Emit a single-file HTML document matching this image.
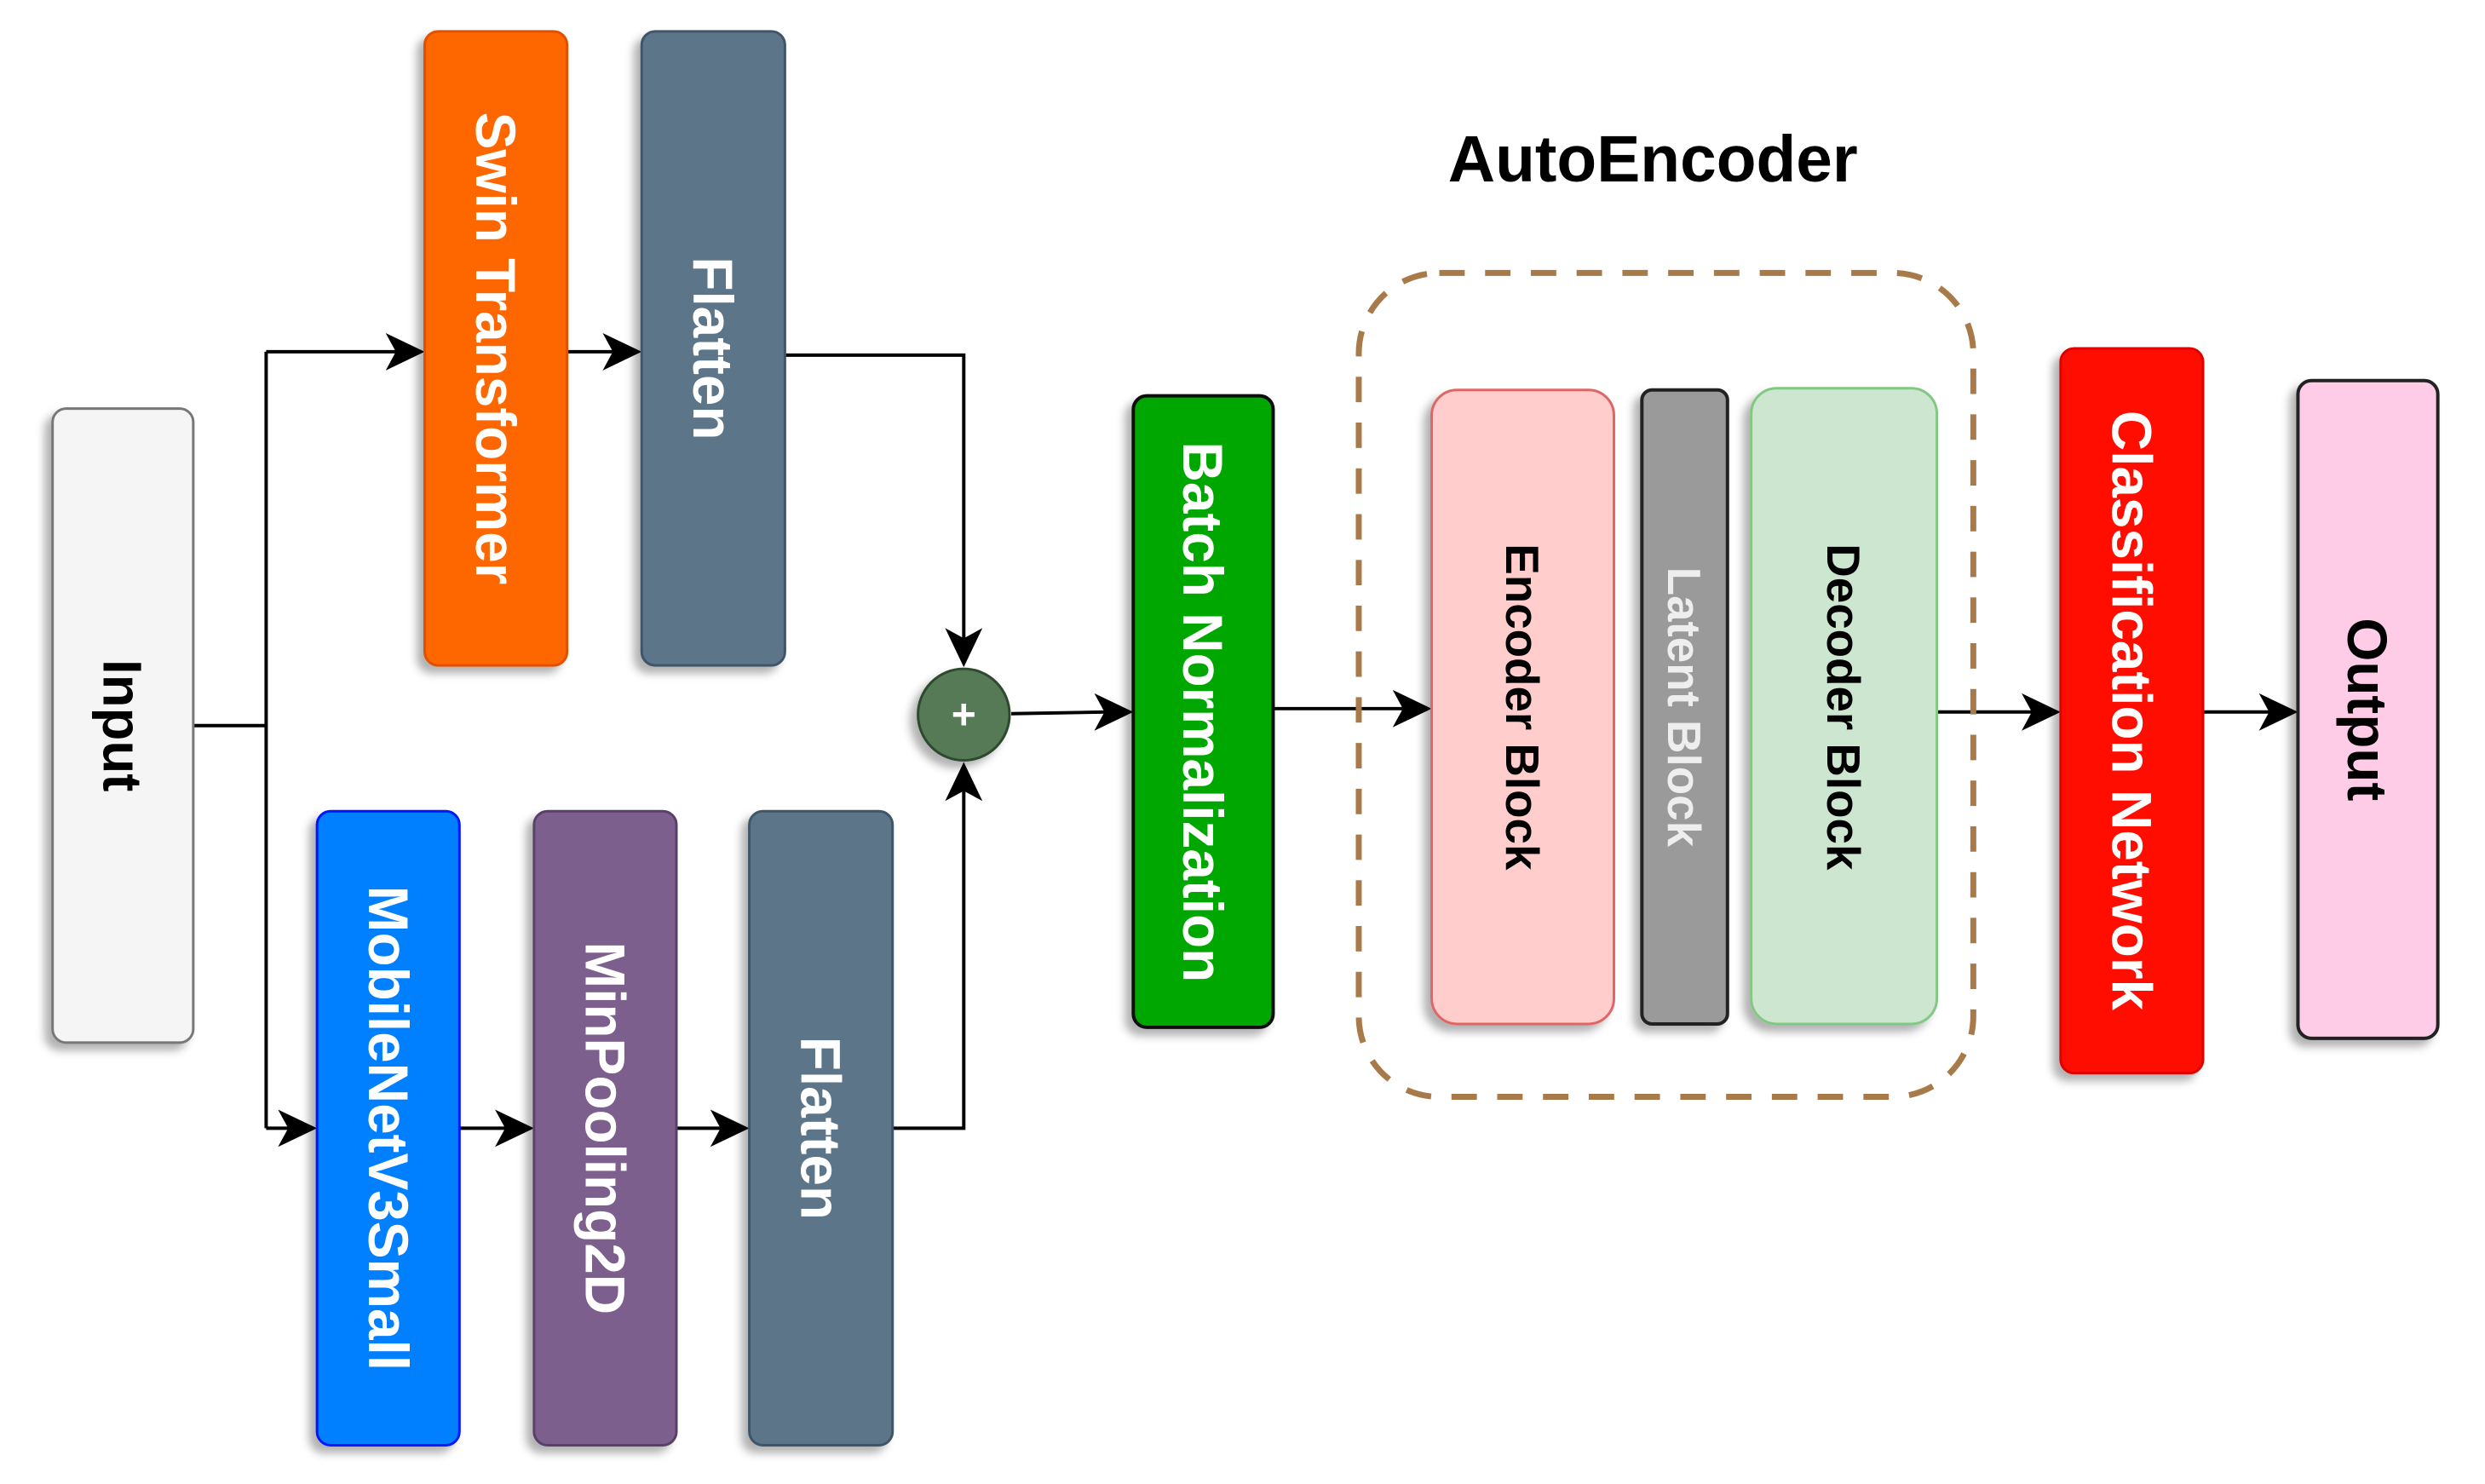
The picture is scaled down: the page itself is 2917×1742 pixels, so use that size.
<!DOCTYPE html>
<html><head><meta charset="utf-8"><style>
html,body{margin:0;padding:0;background:#fff;}
svg{display:block;}
text{font-family:"Liberation Sans",Arial,sans-serif;font-weight:bold;}
</style></head><body>
<svg width="2917" height="1742" viewBox="0 0 2917 1742" xmlns="http://www.w3.org/2000/svg">
<defs>
<filter id="sh" x="-30%" y="-10%" width="160%" height="120%">
<feDropShadow dx="-8" dy="8" stdDeviation="5" flood-color="#000" flood-opacity="0.3"/>
</filter>
</defs>
<g transform="scale(0.995)">
<g stroke="#000" stroke-width="4" fill="none">
<polyline points="228,856 314,856"/>
<polyline points="314,415 314,1331"/>
<line x1="314" y1="415" x2="470" y2="415"/>
<line x1="669" y1="415" x2="726" y2="415"/>
<polyline points="926,419 1137,419 1137,760"/>
<line x1="314" y1="1331" x2="343" y2="1331"/>
<line x1="542" y1="1331" x2="599" y2="1331"/>
<line x1="798" y1="1331" x2="853" y2="1331"/>
<polyline points="1053,1331 1137,1331 1137,928"/>
<line x1="1193" y1="842" x2="1306" y2="840"/>
<line x1="1502" y1="836" x2="1658" y2="836"/>
<line x1="2285" y1="840" x2="2400" y2="840"/>
<line x1="2599" y1="840" x2="2680" y2="840"/>
</g>
<g fill="#000">
<path d="M501,415 l-46,-22 l12,22 l-12,22z"/>
<path d="M757,415 l-46,-22 l12,22 l-12,22z"/>
<path d="M1137,787 l-22,-46 l22,12 l22,-12z"/>
<path d="M374,1331 l-46,-22 l12,22 l-12,22z"/>
<path d="M630,1331 l-46,-22 l12,22 l-12,22z"/>
<path d="M884,1331 l-46,-22 l12,22 l-12,22z"/>
<path d="M1137,899 l-22,46 l22,-12 l22,12z"/>
<path d="M1337,840 l-46,-22 l12,22 l-12,22z"/>
<path d="M1689,836 l-46,-22 l12,22 l-12,22z"/>
<path d="M2431,840 l-46,-22 l12,22 l-12,22z"/>
<path d="M2711,840 l-46,-22 l12,22 l-12,22z"/>
</g>
<rect x="1603" y="322" width="725" height="972" rx="95" fill="none" stroke="#a87a4a" stroke-width="7" stroke-dasharray="30,24"/>
<g filter="url(#sh)">
<rect x="62" y="482" width="166" height="748" rx="16" fill="#f5f5f5" stroke="#777" stroke-width="3"/>
<rect x="501" y="37" width="168" height="748" rx="16" fill="#fe6600" stroke="#e14f00" stroke-width="3"/>
<rect x="757" y="37" width="169" height="748" rx="16" fill="#5b7589" stroke="#3f5567" stroke-width="3"/>
<rect x="374" y="957" width="168" height="748" rx="16" fill="#007ffe" stroke="#0018ff" stroke-width="3"/>
<rect x="630" y="957" width="168" height="748" rx="16" fill="#7c5e8c" stroke="#58406a" stroke-width="3"/>
<rect x="884" y="957" width="169" height="748" rx="16" fill="#5b7589" stroke="#3f5567" stroke-width="3"/>
<rect x="1337" y="467" width="165" height="745" rx="16" fill="#02a702" stroke="#111" stroke-width="4"/>
<rect x="1689" y="460" width="215" height="748" rx="30" fill="#ffcdcc" stroke="#e06666" stroke-width="3"/>
<rect x="1937" y="460" width="101" height="748" rx="12" fill="#9a9a9a" stroke="#222" stroke-width="4"/>
<rect x="2066" y="458" width="219" height="750" rx="30" fill="#cde6d0" stroke="#82c882" stroke-width="3"/>
<rect x="2431" y="411" width="168" height="855" rx="16" fill="#fe0b00" stroke="#e00000" stroke-width="3"/>
<rect x="2711" y="449" width="165" height="776" rx="16" fill="#fecce6" stroke="#222" stroke-width="4"/>
<circle cx="1137" cy="843" r="54" fill="#557a55" stroke="#2e4a2e" stroke-width="3"/>
</g>
<text x="1137" y="860" font-size="50" fill="#fff" text-anchor="middle" font-weight="normal">+</text>
<g font-size="66" text-anchor="middle">
<text transform="translate(145,856) rotate(90)" dy="23" font-size="64" fill="#000">Input</text>
<text transform="translate(585,411) rotate(90)" dy="23" fill="#fff">Swin Transformer</text>
<text transform="translate(841,411) rotate(90)" dy="23" fill="#fff">Flatten</text>
<text transform="translate(458,1331) rotate(90)" dy="23" fill="#fff">MobileNetV3Small</text>
<text transform="translate(714,1331) rotate(90)" dy="23" fill="#fff">MinPooling2D</text>
<text transform="translate(968,1331) rotate(90)" dy="23" fill="#fff">Flatten</text>
<text transform="translate(1419,840) rotate(90)" dy="23" fill="#fff">Batch Normalization</text>
<text transform="translate(1796,834) rotate(90)" dy="19" font-size="55" fill="#000">Encoder Block</text>
<text transform="translate(1987,834) rotate(90)" dy="19" font-size="55" fill="#eee">Latent Block</text>
<text transform="translate(2175,834) rotate(90)" dy="19" font-size="55" fill="#000">Decoder Block</text>
<text transform="translate(2515,838) rotate(90)" dy="23" fill="#fff">Classification Network</text>
<text transform="translate(2793,837) rotate(90)" dy="23" fill="#000">Output</text>
</g>
<text x="1950" y="214" font-size="77" text-anchor="middle" fill="#000">AutoEncoder</text>
</g>
</svg>
</body></html>
